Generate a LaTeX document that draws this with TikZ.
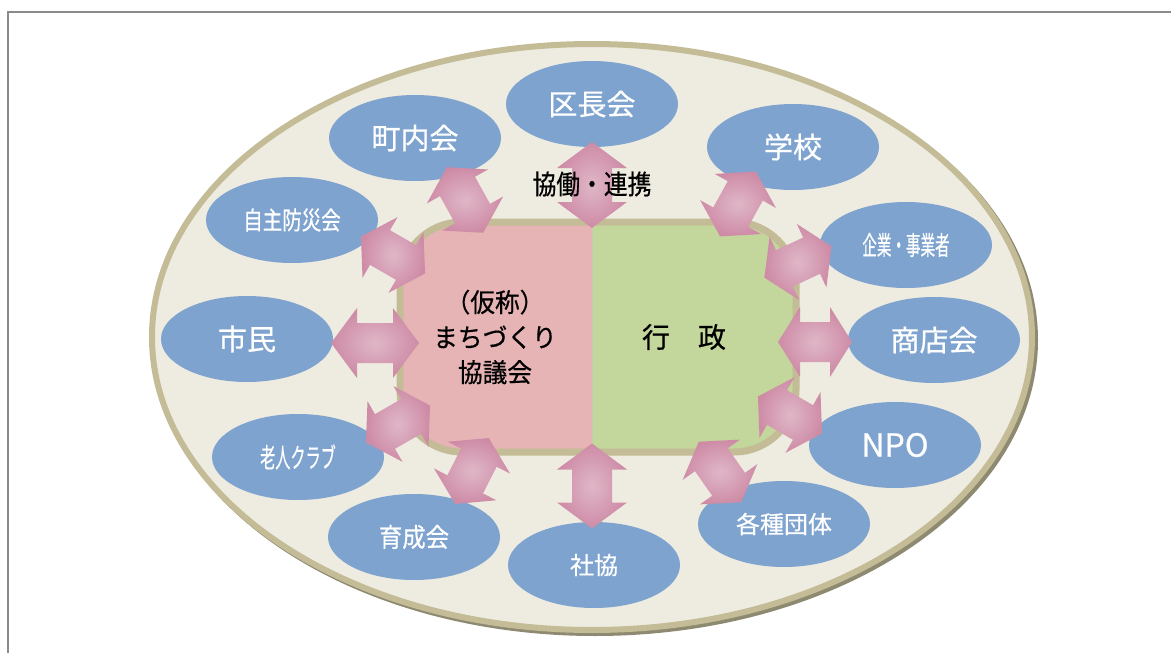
\documentclass[tikz,border=0pt]{standalone}
\usepackage{fontspec}
\newfontfamily\jp[FakeBold=0.6]{Noto Sans CJK JP}
\definecolor{ringfill}{HTML}{EEEBE0}
\definecolor{ringline}{HTML}{C4BC96}
\definecolor{ringshadow}{HTML}{8E8A72}
\definecolor{bluec}{HTML}{7EA3CF}
\definecolor{pinkc}{HTML}{E6B4B4}
\definecolor{greenc}{HTML}{C3D69B}
\definecolor{arrin}{HTML}{DFB7C7}
\definecolor{arrout}{HTML}{CE8BA6}
\definecolor{framec}{HTML}{8A8A8A}
\tikzset{
  member/.style={fill=bluec, ellipse, minimum width=172, minimum height=86, inner sep=0pt, text=white, font=\jp\fontsize{29}{30}\selectfont},
  arrowshade/.style={inner color=arrin, outer color=arrout},
  pics/dblarrow/.style n args={3}{code={
    \begin{scope}[rotate=#1]
      \path[arrowshade] (-#2/2,0) -- (-#2/2+#3,-35) -- (-#2/2+#3,-20) -- (#2/2-#3,-20)
        -- (#2/2-#3,-35) -- (#2/2,0) -- (#2/2-#3,35) -- (#2/2-#3,20)
        -- (-#2/2+#3,20) -- (-#2/2+#3,35) -- cycle;
    \end{scope}
  }},
  centertext/.style={text=black, align=center, inner sep=0pt, font=\jp\fontsize{26}{35}\selectfont}
}
\usetikzlibrary{shapes.geometric}
\begin{document}
\begin{tikzpicture}[x=1pt,y=-1pt]
\useasboundingbox (0,0) rectangle (1171,653);
\fill[white] (0,0) rectangle (1171,653);
% frame
\draw[framec, line width=1.5] (8,653) -- (8,12) -- (1171,12);
% outer ring
\fill[ringshadow] (595,340) ellipse [x radius=443, y radius=296];
\draw[ringline, fill=ringfill, line width=6] (592,337) ellipse [x radius=440, y radius=293];
% central block
\begin{scope}
  \clip[rounded corners=62] (400,222) rectangle (796,452);
  \fill[pinkc] (400,222) rectangle (592,452);
  \fill[greenc] (592,222) rectangle (796,452);
\end{scope}
\draw[ringline, line width=7, rounded corners=62] (400,222) rectangle (796,452);
\draw[greenc!80!black!60, line width=0.6] (592,224) -- (592,450);
% member ellipses
\node[member] (kucho) at (592,104) {区長会};
\node[member] (chonai) at (415,138) {町内会};
\node[member] (gakko) at (793,147) {学校};
\node[member] (bosai) at (292,220) {\scalebox{0.78}[1]{\fontsize{25}{28}\selectfont 自主防災会}};
\node[member] (kigyo) at (906,245) {\scalebox{0.56}[1]{\fontsize{26}{28}\selectfont 企業・事業者}};
\node[member] (shimin) at (247,339) {市民};
\node[member] (shoten) at (934,340) {商店会};
\node[member] (rojin) at (298,457) {\scalebox{0.56}[1]{\fontsize{27}{28}\selectfont 老人クラブ}};
\node[member] (npo) at (895,445) {\fontsize{32}{32}\selectfont NPO};
\node[member] (ikusei) at (414,537) {\scalebox{0.9}[1]{\fontsize{26}{28}\selectfont 育成会}};
\node[member] (shakyo) at (594,565) {\fontsize{24}{28}\selectfont 社協};
\node[member] (kakushu) at (784,524) {\fontsize{24}{28}\selectfont 各種団体};
% double arrows
\pic (a1) at (592,185) {dblarrow={90}{86}{26}};
\pic (a2) at (465,200) {dblarrow={-61}{75}{22}};
\pic (a3) at (738,204) {dblarrow={61}{74}{22}};
\pic (a4) at (393,255) {dblarrow={-30}{74}{22}};
\pic (a5) at (798,262) {dblarrow={25}{74}{22}};
\pic (a6) at (375,343) {dblarrow={0}{88}{26}};
\pic (a7) at (815,342) {dblarrow={0}{74}{22}};
\pic (a8) at (398,424) {dblarrow={30}{74}{22}};
\pic (a9) at (790,415) {dblarrow={-30}{74}{22}};
\pic (a10) at (472,471) {dblarrow={63}{74}{22}};
\pic (a11) at (720,472) {dblarrow={-55}{74}{22}};
\pic (a12) at (592,486) {dblarrow={90}{85}{26}};
% texts
\node[centertext] (kyodo) at (592,184) {\scalebox{0.88}[1]{\fontsize{27}{30}\selectfont 協働・連携}};
\node[centertext] (machi) at (495,337) {\scalebox{0.95}[1]{（仮称）}\\\scalebox{0.95}[1]{まちづくり}\\\scalebox{0.95}[1]{協議会}};
\node[centertext] (gyosei) at (684,337) {\fontsize{28}{30}\selectfont 行　政};
\end{tikzpicture}
\end{document}
